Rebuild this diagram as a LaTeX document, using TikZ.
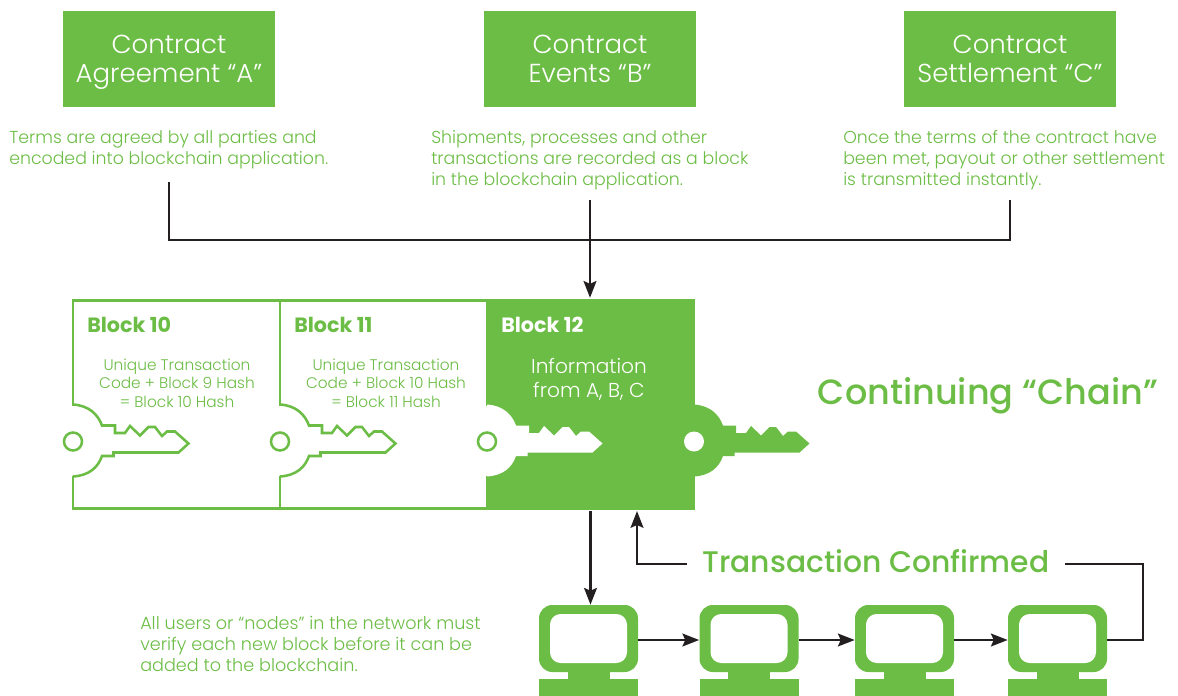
\documentclass[tikz,border=0pt]{standalone}
\usepackage{amsmath}
\usepackage{fontspec}
\setmainfont{Poppins}[UprightFont=* Light,BoldFont=* Bold]
\newfontfamily\mediumfont{Poppins Medium}
\usetikzlibrary{positioning,arrows.meta}
\definecolor{leaf}{HTML}{6CBD45}
\definecolor{wirecol}{HTML}{231F20}
\newcommand{\keypath}{(0,-37) .. controls (16,-36) and (25,-27) .. (29,-16) -- (42,-16) -- (42,-8.5) -- (52,-8.5) -- (57,-15.5) -- (67,-6) -- (75.5,-14.5) -- (82,-14.5) -- (89,-5.5) -- (94,-10) -- (102,-10) -- (115.5,2) -- (105.5,11) -- (40.5,11) -- (40.5,14.5) -- (29,14.5) .. controls (25,26) and (16,34) .. (0,35)}
\tikzset{
	contract/.style={fill=leaf,text=white,minimum width=159pt,minimum height=72pt,align=center,font=\fontsize{19.5}{21.75}\selectfont},
	terms/.style={text=leaf,inner sep=0pt,align=left,font=\fontsize{13}{15.75}\selectfont},
	block/.style={draw=leaf,line width=1.9pt,fill=white,outer sep=0pt,minimum width=155.25pt,minimum height=156pt},
	blocktitle/.style={text=leaf,inner sep=0pt,anchor=west,font=\fontsize{15.5}{18}\selectfont\bfseries},
	blocktext/.style={text=leaf,inner sep=0pt,align=center,font=\fontsize{11.5}{13.9}\selectfont},
	keyhole/.style={circle,draw=leaf,line width=1.9pt,fill=white,minimum size=13.5pt,inner sep=0pt},
	monitor/.style={fill=leaf,rounded corners=10pt,minimum width=74.25pt,minimum height=50.25pt},
	screen/.style={fill=white,rounded corners=8pt,minimum width=57.75pt,minimum height=36.75pt},
	stand/.style={fill=leaf,minimum width=31.5pt,minimum height=5.25pt,inner sep=0pt},
	foot/.style={fill=leaf,minimum width=74.25pt,minimum height=12.75pt,inner sep=0pt},
	wire/.style={draw=wirecol,line width=2.1pt},
	arrow/.style={wire,-{Stealth[length=12.5pt,width=9.5pt,inset=2pt]}},
}
\begin{document}
\begin{tikzpicture}[x=0.75pt,y=-0.75pt,node distance=155.25pt,on grid]
	\useasboundingbox (0,0) rectangle (1178,696);

	\node[contract] (contract_a) at (169,59) {Contract\\\smash[b]{Agreement “A”}};
	\node[contract] (contract_b) at (590,59) {Contract\\Events “B”};
	\node[contract] (contract_c) at (1010,59) {Contract\\Settlement “C”};

	\node[terms,anchor=north west] (terms_a) at (9,130) {Terms are agreed by all parties and\\encoded into blockchain application.};
	\node[terms,anchor=north west] (terms_b) at (431,130) {Shipments, processes and other\\transactions are recorded as a block\\in the blockchain application.};
	\node[terms,anchor=north west] (terms_c) at (843,130) {Once the terms of the contract have\\been met, payout or other settlement\\is transmitted instantly.};

	\node[block] (block_10) at (176.5,404.5) {};
	\node[block] (block_11) [right=of block_10] {};
	\node[block,fill=leaf] (block_12) [right=of block_11] {};

	\coordinate (key_10) at ([yshift=-27.75pt]block_10.west);
	\coordinate (key_11) at ([yshift=-27.75pt]block_11.west);
	\coordinate (key_12) at ([yshift=-27.75pt]block_12.west);
	\coordinate (key_13) at ([yshift=-27.75pt]block_12.east);

	\foreach \k in {key_10,key_11}{
		\begin{scope}[shift={(\k)}]
			\draw[white,line width=3pt] (0,-36) -- (0,34);
			\draw[leaf,line width=1.9pt,fill=white] \keypath;
		\end{scope}
		\node[keyhole] at (\k) {};
	}
	\begin{scope}[shift={(key_12)}]
		\draw[white,line width=3pt] (0,-36) -- (0,34);
		\fill[white] \keypath -- cycle;
	\end{scope}
	\node[keyhole] (hole_12) at (key_12) {};
	\begin{scope}[shift={(key_13)}]
		\fill[leaf] \keypath -- cycle;
	\end{scope}
	\node[keyhole,draw=none,minimum size=15pt] (hole_13) at (key_13) {};

	\node[blocktitle] (title_10) at (87,325) {Block 10};
	\node[blocktitle] (title_11) at (294,325) {Block 11};
	\node[blocktitle,text=white] (title_12) at (501,325) {Block 12};
	\node[blocktext] (text_10) at (177,383) {Unique Transaction\\Code + Block 9 Hash\\= Block 10 Hash};
	\node[blocktext] (text_11) at (386,383) {Unique Transaction\\Code + Block 10 Hash\\= Block 11 Hash};
	\node[blocktext,text=white,font=\fontsize{15.1}{18}\selectfont] (text_12) at (589,379) {Information\\from A, B, C};

	\node[text=leaf,inner sep=0pt,font=\fontsize{26.3}{30}\mediumfont] (chain) at (988,396) {Continuing “Chain”};
	\node[text=leaf,inner sep=0pt,text depth=4.5pt,minimum width=283.5pt,font=\fontsize{22.35}{28}\mediumfont] (confirmed) at (876,564) {Transaction Confirmed};
	\node[terms,anchor=north west,font=\fontsize{13.2}{15.75}\selectfont] (nodes_note) at (140,616) {All users or “nodes” in the network must\\verify each new block before it can be\\added to the blockchain.};

	\node[monitor] (pc_1) at (588.5,638.5) {};
	\node[monitor] (pc_2) at (749,638.5) {};
	\node[monitor] (pc_3) at (904.5,638.5) {};
	\node[monitor] (pc_4) at (1057.5,638.5) {};
	\foreach \pc in {pc_1,pc_2,pc_3,pc_4}{
		\node[screen] at (\pc) {};
		\node[stand,below=27.75pt of \pc] (\pc_stand) {};
		\node[foot,below=9pt of \pc_stand] {};
	}

	\coordinate (bus_a) at (169,182);
	\coordinate (bus_b) at (590,200);
	\coordinate (bus_c) at (1010,200);
	\coordinate (bus_left) at (169,240);
	\coordinate (bus_right) at (1010,240);
	\coordinate (back_in) at (637,511);
	\coordinate (pc_out) at (1143,640);

	\draw[wire] (bus_a) -- (bus_left) -- (bus_right) -- (bus_c);
	\draw[arrow,shorten >=2pt] (bus_b) -- (bus_b |- block_12.north);
	\draw[arrow,shorten <=2pt] (block_12.south) -- (block_12.south |- pc_1.north);
	\draw[arrow] (pc_1.east |- pc_out) -- (pc_2.west |- pc_out);
	\draw[arrow] (pc_2.east |- pc_out) -- (pc_3.west |- pc_out);
	\draw[arrow] (pc_3.east |- pc_out) -- (pc_4.west |- pc_out);
	\draw[wire] (pc_4.east |- pc_out) -- (pc_out) |- (confirmed.east);
	\draw[arrow] (confirmed.west) -| (back_in);
\end{tikzpicture}
\end{document}
